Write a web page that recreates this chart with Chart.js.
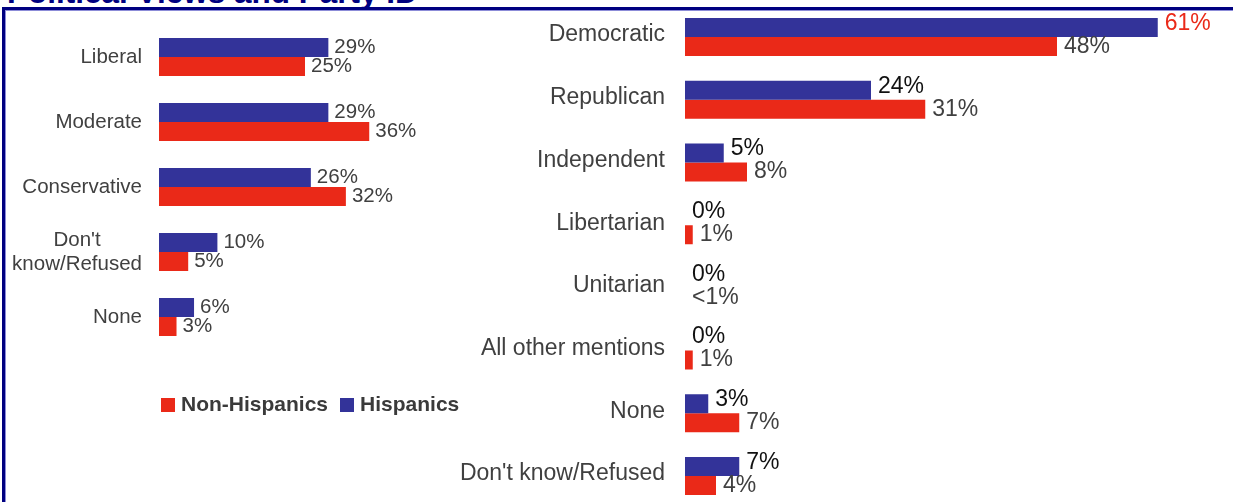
<!DOCTYPE html>
<html>
<head>
<meta charset="utf-8">
<script src="https://cdn.jsdelivr.net/npm/chart.js@4.4.1/dist/chart.umd.min.js"></script>
<style>
  html, body { margin:0; padding:0; width:1233px; height:502px; overflow:hidden; background:#fff; }
  #wrap { position:relative; width:1233px; height:502px; overflow:hidden; font-family:"Liberation Sans", Arial, sans-serif; }
  canvas { position:absolute; }
  #title { position:absolute; left:0; top:0; }
  .bd { position:absolute; }
  #legend { position:absolute; left:161px; top:392px; font:bold 21px "Liberation Sans", Arial, sans-serif; color:#3a3a3a; white-space:nowrap; }
  #legend span.item { display:inline-block; margin-right:12px; }
  #legend i { display:inline-block; width:14px; height:14px; margin-right:6px; vertical-align:-1px; }
</style>
</head>
<body>
<div id="wrap">
  <svg id="title" width="1233" height="14"><text x="7" y="3" font-family="Liberation Sans, Arial, sans-serif" font-weight="bold" font-size="31.5" fill="#000080">Political Views and Party ID</text></svg>
  <div class="bd" style="left:2px;top:7px;width:1231px;height:3px;background:#000080"></div>
  <div class="bd" style="left:5px;top:10px;width:1228px;height:1px;background:#8c8cd8"></div>
  <div class="bd" style="left:2px;top:7px;width:3px;height:495px;background:#000080"></div>
  <div class="bd" style="left:5px;top:10px;width:1px;height:492px;background:#8c8cd8"></div>
  <canvas id="views" width="470" height="360" style="left:0;top:0;width:470px;height:360px"></canvas>
  <canvas id="party" width="793" height="520" style="left:440px;top:0;width:793px;height:520px"></canvas>
  <div id="legend"></div>
</div>
<script>
// ---- data ----
const seriesNames = ['Hispanics', 'Non-Hispanics'];
const viewCategories = ['Liberal', 'Moderate', 'Conservative', ["Don't", 'know/Refused'], 'None'];
const viewHispanic = [29, 29, 26, 10, 6];
const viewNonHispanic = [25, 36, 32, 5, 3];

const partyCategories = ['Democratic', 'Republican', 'Independent', 'Libertarian', 'Unitarian', 'All other mentions', 'None', "Don't know/Refused"];
const partyHispanic = [61, 24, 5, 0, 0, 0, 3, 7];
const partyNonHispanic = [48, 31, 8, 1, 0, 1, 7, 4];
const partyHispanicLabels = ['61%', '24%', '5%', '0%', '0%', '0%', '3%', '7%'];
const partyNonHispanicLabels = ['48%', '31%', '8%', '1%', '<1%', '1%', '7%', '4%'];

// ---- styles ----
const BLUE = '#333399';
const RED = '#EA2918';
const GRAY = '#404040';
const FONT = '"Liberation Sans", Arial, sans-serif';

const categoryLabelPlugin = {
  id: 'catLabels',
  afterDraw(chart, args, opts) {
    const ctx = chart.ctx;
    const y = chart.scales.y;
    const labels = chart.data.labels;
    ctx.save();
    ctx.font = opts.size + 'px ' + FONT;
    ctx.fillStyle = opts.color;
    ctx.textBaseline = 'middle';
    ctx.textAlign = 'center';
    const right = chart.chartArea.left - opts.gap;
    labels.forEach((lab, i) => {
      const lines = Array.isArray(lab) ? lab : [lab];
      const w = Math.max(...lines.map(l => ctx.measureText(l).width));
      const cy = y.getPixelForValue(i) + opts.dy;
      const lh = opts.lineHeight;
      lines.forEach((l, k) => {
        const ly = cy + (k - (lines.length - 1) / 2) * lh;
        ctx.fillText(l, right - w / 2, ly);
      });
    });
    ctx.restore();
  }
};

const valueLabelPlugin = {
  id: 'valLabels',
  afterDatasetsDraw(chart, args, opts) {
    const ctx = chart.ctx;
    ctx.save();
    ctx.font = opts.size + 'px ' + FONT;
    ctx.textBaseline = 'middle';
    ctx.textAlign = 'left';
    chart.data.datasets.forEach((ds, di) => {
      const meta = chart.getDatasetMeta(di);
      meta.data.forEach((el, i) => {
        const txt = ds.valueLabels ? ds.valueLabels[i] : ds.data[i] + '%';
        ctx.fillStyle = (ds.labelColors && ds.labelColors[i]) || ds.labelColor;
        ctx.fillText(txt, el.x + opts.offset, el.y + (ds.labelDy || 0));
      });
    });
    ctx.restore();
  }
};

function makeChart(id, labels, hisp, nonHisp, cfg) {
  return new Chart(document.getElementById(id), {
    type: 'bar',
    data: {
      labels: labels,
      datasets: [
        { label: seriesNames[0], data: hisp, backgroundColor: BLUE, borderWidth: 0,
          categoryPercentage: cfg.cat, barPercentage: 1.0,
          labelColor: cfg.hispColor, labelColors: cfg.hispColors, valueLabels: cfg.hispLabels, labelDy: cfg.hispDy },
        { label: seriesNames[1], data: nonHisp, backgroundColor: RED, borderWidth: 0,
          categoryPercentage: cfg.cat, barPercentage: 1.0,
          labelColor: GRAY, valueLabels: cfg.nonHispLabels, labelDy: cfg.nonHispDy }
      ]
    },
    options: {
      indexAxis: 'y',
      responsive: false,
      animation: false,
      devicePixelRatio: 1,
      layout: { padding: cfg.padding },
      scales: {
        x: { display: false, min: 0, max: cfg.max },
        y: { display: false }
      },
      plugins: {
        legend: { display: false },
        tooltip: { enabled: false },
        catLabels: { size: cfg.font, color: GRAY, gap: cfg.gap, dy: cfg.catDy, lineHeight: 24 },
        valLabels: { size: cfg.font, offset: cfg.valOffset }
      }
    },
    plugins: [categoryLabelPlugin, valueLabelPlugin]
  });
}

makeChart('views', viewCategories, viewHispanic, viewNonHispanic, {
  cat: 0.585, max: 50, font: 20.5, gap: 17, catDy: 0, valOffset: 6,
  hispColor: GRAY, hispDy: 0, nonHispDy: 0,
  padding: { left: 159, right: 19, top: 24.5, bottom: 10.5 }
});

makeChart('party', partyCategories, partyHispanic, partyNonHispanic, {
  cat: 0.606, max: 70, font: 23, gap: 20, catDy: -2, valOffset: 7,
  hispColor: '#111111', hispColors: [RED], hispLabels: partyHispanicLabels, nonHispLabels: partyNonHispanicLabels,
  hispDy: -4, nonHispDy: 0,
  padding: { left: 245, right: 5.5, top: 5.65, bottom: 12.6 }
});

// legend (reverse order, as in the reference)
const legend = document.getElementById('legend');
[[seriesNames[1], RED], [seriesNames[0], BLUE]].forEach(([name, color]) => {
  const s = document.createElement('span');
  s.className = 'item';
  s.innerHTML = '<i style="background:' + color + '"></i>' + name;
  legend.appendChild(s);
});
</script>
</body>
</html>
